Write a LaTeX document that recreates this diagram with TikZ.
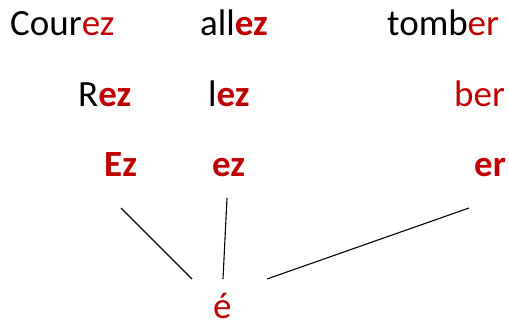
\documentclass[tikz,border=0pt]{standalone}
\usepackage{fontspec}
\setmainfont{Carlito}
\definecolor{wred}{HTML}{C00000}
\begin{document}
\begin{tikzpicture}[x=1pt,y=-1pt,
  word/.style={anchor=base west,inner sep=0pt,font=\fontsize{37}{44}\selectfont},
  link/.style={draw=black,line width=1.1pt}]
\useasboundingbox (0,0) rectangle (509,326);
\node[word] (courez) at (10,36) {Cour\textcolor{wred}{ez}};
\node[word] (allez) at (200,36) {all\textcolor{wred}{\bfseries ez}};
\node[word] (tomber) at (387,36) {tomb\textcolor{wred}{er}};
\node[word] (rez) at (78,107) {R\textcolor{wred}{\bfseries ez}};
\node[word] (lez) at (208,107) {l\textcolor{wred}{\bfseries ez}};
\node[word,text=wred] (ber) at (454,107) {ber};
\node[word,text=wred,font=\fontsize{37}{44}\selectfont\bfseries] (Ez) at (104,177) {Ez};
\node[word,text=wred,font=\fontsize{37}{44}\selectfont\bfseries] (ez) at (212,177) {ez};
\node[word,text=wred,font=\fontsize{37}{44}\selectfont\bfseries] (er) at (474,177) {er};
\node[word,text=wred] (eacute) at (213,318) {é};
\coordinate (a1) at (121,208);
\coordinate (a2) at (192,279);
\coordinate (b1) at (227,198);
\coordinate (b2) at (223,279);
\coordinate (c1) at (469,208);
\coordinate (c2) at (267,279);
\draw[link] (a1) -- (a2);
\draw[link] (b1) -- (b2);
\draw[link] (c1) -- (c2);
\end{tikzpicture}
\end{document}
